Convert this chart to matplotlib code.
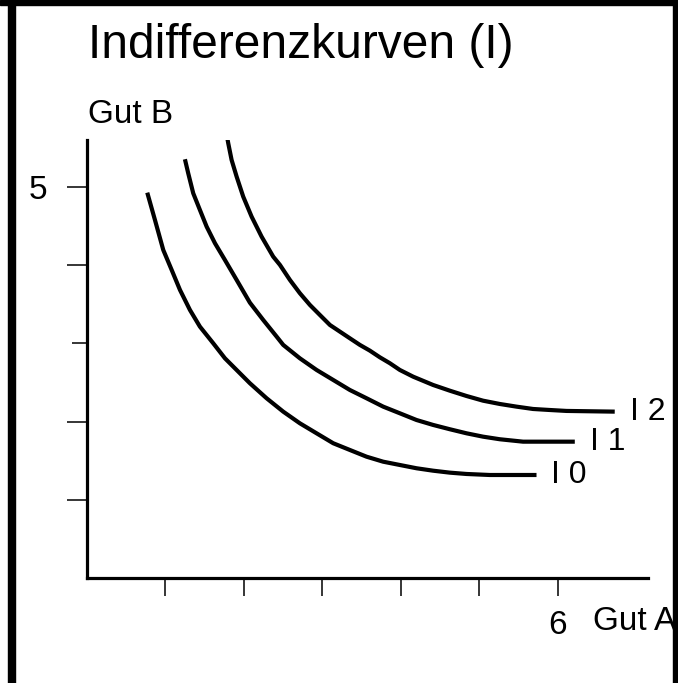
import matplotlib.pyplot as plt
from matplotlib.patches import Rectangle
from matplotlib.ticker import FixedLocator

plt.rcParams['font.family'] = ['Liberation Sans', 'DejaVu Sans']

# indifference curves (Gut A, Gut B)
i0_a = [0.768, 0.866, 0.972, 1.079, 1.185, 1.312, 1.439, 1.609, 1.758, 2.076, 2.289, 2.501, 2.713,
        2.926, 3.138, 3.350, 3.563, 3.775, 3.987, 4.200, 4.411, 4.624, 4.837, 5.134, 5.729]
i0_b = [4.927, 4.578, 4.194, 3.939, 3.683, 3.427, 3.214, 3.001, 2.809, 2.490, 2.298, 2.127, 1.978,
        1.850, 1.723, 1.637, 1.551, 1.487, 1.445, 1.403, 1.372, 1.347, 1.330, 1.317, 1.317]

i1_a = [1.248, 1.290, 1.354, 1.439, 1.525, 1.631, 1.758, 1.907, 2.076, 2.246, 2.417, 2.501, 2.713,
        2.926, 3.138, 3.350, 3.563, 3.775, 3.987, 4.200, 4.411, 4.624, 4.837, 5.048, 5.261, 5.558, 6.217]
i1_b = [5.354, 5.175, 4.919, 4.706, 4.492, 4.280, 4.066, 3.811, 3.520, 3.299, 3.086, 2.980, 2.809,
        2.660, 2.532, 2.404, 2.298, 2.191, 2.106, 2.020, 1.957, 1.902, 1.850, 1.807, 1.774, 1.743, 1.743]

i2_a = [1.767, 1.800, 1.843, 1.907, 1.991, 2.098, 2.225, 2.373, 2.459, 2.586, 2.713, 2.841, 2.968,
        3.096, 3.223, 3.350, 3.478, 3.605, 3.732, 3.860, 3.987, 4.157, 4.411, 4.624, 4.837, 5.048,
        5.261, 5.474, 5.685, 5.898, 6.111, 6.726]
i2_b = [5.742, 5.559, 5.345, 5.132, 4.876, 4.620, 4.365, 4.109, 4.003, 3.811, 3.641, 3.491, 3.363,
        3.235, 3.150, 3.065, 2.980, 2.907, 2.822, 2.746, 2.660, 2.574, 2.468, 2.395, 2.327, 2.267,
        2.225, 2.191, 2.161, 2.148, 2.136, 2.127]

curves = [(i0_a, i0_b, 'I 0'), (i1_a, i1_b, 'I 1'), (i2_a, i2_b, 'I 2')]

x_ticks = [1, 2, 3, 4, 5, 6]
x_ticklabels = ['', '', '', '', '', '6']
y_ticks = [1, 2, 4, 5]
y_ticklabels = ['', '', '', '5']
y_short_tick = [3]

W, H = 678, 683
fig = plt.figure(figsize=(W / 100, H / 100), dpi=100)

# black frame bars of the slide
fig.patches.append(Rectangle((8 / W, 0), 7 / W, 1, transform=fig.transFigure, color='black', zorder=10))
fig.patches.append(Rectangle((673 / W, 0), 5 / W, 1, transform=fig.transFigure, color='black', zorder=10))
fig.patches.append(Rectangle((0, 1 - 5 / H), 1, 5 / H, transform=fig.transFigure, color='black', zorder=10))

ax = fig.add_axes([87 / W, (H - 578) / H, (648 - 87) / W, (578 - 140) / H])
ax.set_xlim(0, 7.15)
ax.set_ylim(0, 5.6)
ax.patch.set_alpha(0)

for a, b, name in curves:
    ax.plot(a, b, color='black', lw=3, solid_capstyle='butt', solid_joinstyle='round')
    ax.text(a[-1] + 0.19, b[-1], name, fontsize=23, va='center', ha='left')

ax.spines['top'].set_visible(False)
ax.spines['right'].set_visible(False)
ax.spines['left'].set_linewidth(2.3)
ax.spines['bottom'].set_linewidth(2.3)

ax.set_xticks(x_ticks)
ax.set_xticklabels(x_ticklabels)
ax.set_yticks(y_ticks)
ax.set_yticklabels(y_ticklabels)
ax.yaxis.set_minor_locator(FixedLocator(y_short_tick))
ax.tick_params(axis='x', direction='out', length=13, width=1.1, pad=10, labelsize=24)
ax.tick_params(axis='y', direction='out', length=14.5, width=1.1, pad=14, labelsize=24)
ax.tick_params(axis='y', which='minor', direction='out', length=11, width=1.1)

ax.text(0.01, 5.92, 'Gut B', fontsize=24, ha='left', va='center', clip_on=False)
ax.text(6.45, -0.55, 'Gut A', fontsize=24, ha='left', va='center', clip_on=False)

fig.text(88 / W, 1 - 45 / H, 'Indifferenzkurven (I)', fontsize=34.5, ha='left', va='center')

fig.savefig('out.png', dpi=100)
